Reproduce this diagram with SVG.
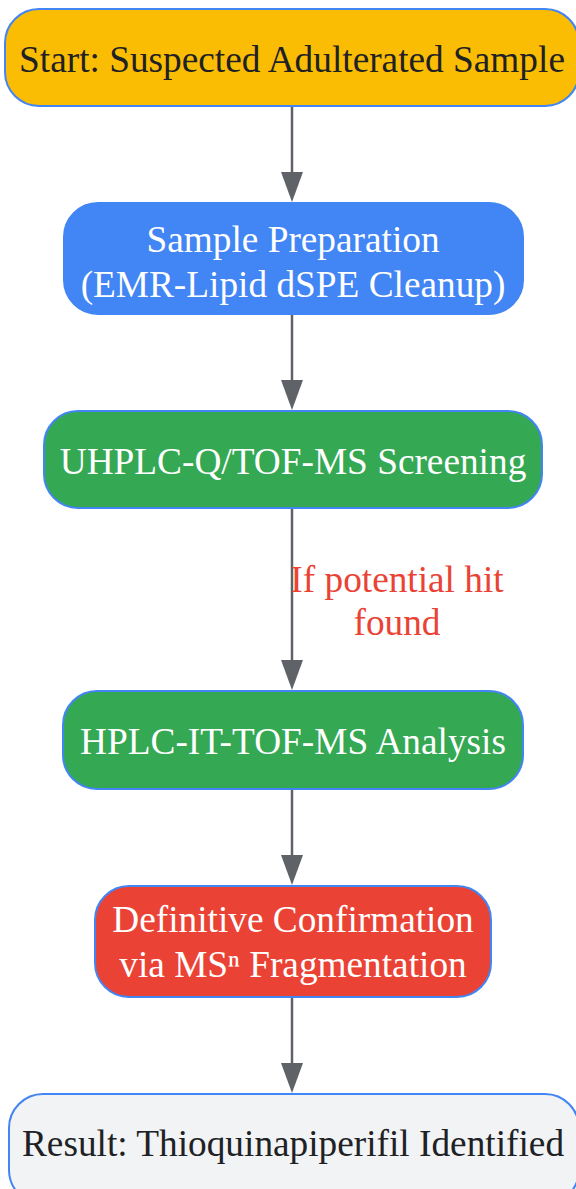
<svg xmlns="http://www.w3.org/2000/svg" width="576" height="1189" viewBox="0 0 576 1189">
<style>
.n{stroke:#4285f4;stroke-width:2}
.t{font-family:"Liberation Serif","Times New Roman",serif;font-size:37.3px;text-anchor:middle}
.dk{fill:#202124}
.wh{fill:#ffffff}
.e{stroke:#5f6368;stroke-width:2.5;fill:none}
.ah{fill:#5f6368}
.lb{font-family:"Liberation Serif","Times New Roman",serif;font-size:37.3px;text-anchor:middle;fill:#ea4335}
</style>
<g id="connectors">
<line class="e" x1="292" y1="106" x2="292" y2="172"/><path class="ah" d="M281,172 L303,172 L292,202 Z"/>
<line class="e" x1="292" y1="314" x2="292" y2="380"/><path class="ah" d="M281,380 L303,380 L292,410 Z"/>
<line class="e" x1="292" y1="508" x2="292" y2="660"/><path class="ah" d="M281,660 L303,660 L292,690 Z"/>
<line class="e" x1="292" y1="789" x2="292" y2="855"/><path class="ah" d="M281,855 L303,855 L292,885 Z"/>
<line class="e" x1="292" y1="997" x2="292" y2="1063"/><path class="ah" d="M281,1063 L303,1063 L292,1093 Z"/>
<text class="lb" x="397" y="592">If potential hit</text>
<text class="lb" x="397" y="635">found</text>
</g>
<g id="start">
<rect class="n" x="5" y="9" width="574" height="97" rx="34" fill="#fbbc04"/>
<text class="t dk" x="292" y="72">Start: Suspected Adulterated Sample</text>
</g>
<g id="prep">
<rect class="n" x="64" y="203" width="459" height="111" rx="34" fill="#4285f4"/>
<text class="t wh" x="293" y="252">Sample Preparation</text>
<text class="t wh" x="293" y="297">(EMR-Lipid dSPE Cleanup)</text>
</g>
<g id="uhplc">
<rect class="n" x="44" y="411" width="498" height="97" rx="34" fill="#34a853"/>
<text class="t wh" x="293" y="474">UHPLC-Q/TOF-MS Screening</text>
</g>
<g id="hplc">
<rect class="n" x="63" y="691" width="460" height="98" rx="34" fill="#34a853"/>
<text class="t wh" x="293" y="754">HPLC-IT-TOF-MS Analysis</text>
</g>
<g id="confirm">
<rect class="n" x="95" y="886" width="396" height="111" rx="34" fill="#ea4335"/>
<text class="t wh" x="293" y="932">Definitive Confirmation</text>
<text class="t wh" x="293" y="977">via MSⁿ Fragmentation</text>
</g>
<g id="result">
<rect class="n" x="9" y="1094" width="570" height="110" rx="34" fill="#f1f3f4"/>
<text class="t dk" x="293" y="1156">Result: Thioquinapiperifil Identified</text>
</g>
</svg>
